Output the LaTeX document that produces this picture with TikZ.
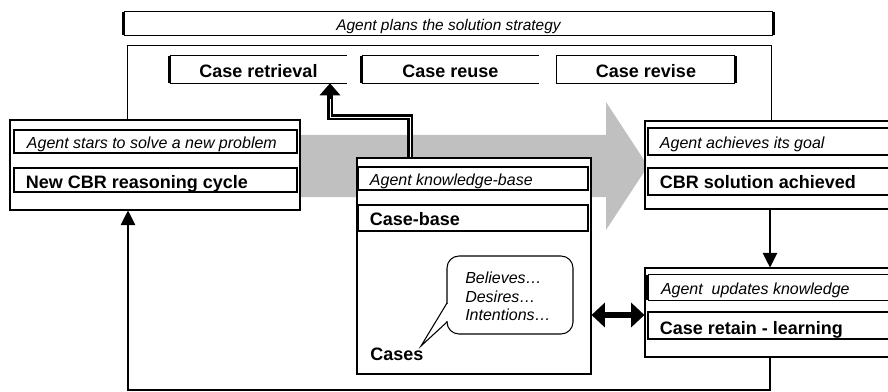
\documentclass[tikz,border=0pt]{standalone}
\usepackage{fontspec}
\setmainfont{Liberation Sans}
\usetikzlibrary{fit,arrows.meta}
\definecolor{flowgray}{RGB}{192,192,192}
\begin{document}
\begin{tikzpicture}[x=0.75pt,y=-0.75pt,
  box/.style={draw, line width=0.8pt, fill=white, inner sep=0pt},
  sub/.style={draw, line width=2pt, fill=white, inner sep=0pt},
  plain/.style={inner sep=0pt},
  itl/.style={font=\fontsize{12}{14}\selectfont\itshape, inner sep=0pt},
  bld/.style={font=\fontsize{13.5}{16}\selectfont\bfseries, inner sep=0pt},
  thinln/.style={line width=0.8pt},
  heavy/.style={line width=2.2pt},
  conn/.style={line width=0.8pt, -{Triangle[length=11pt,width=11pt]}},
]
\useasboundingbox (0,0) rectangle (888,392);
\clip (0,0) rectangle (888,392);

% planning banner
\node[plain, fit={(124,12)(773,35)}] (plan) {};
\draw[thinln] (plan.north west) -- (plan.north east) (plan.south west) -- (plan.south east);
\draw[heavy] (plan.north west) -- (plan.south west) (plan.north east) -- (plan.south east);
\node[itl, font=\fontsize{11.6}{14}\selectfont\itshape, anchor=base] (planT) at ([yshift=-5.2pt]plan.center) {Agent plans the solution strategy};

% planning frame
\node[plain, fit={(128,46)(771,120)}] (frame) {};
\draw[thinln] (frame.south west) -- (frame.north west) -- (frame.north east) -- (frame.south east);

% phases
\node[plain, fit={(170,56)(347,83)}] (retr) {};
\draw[thinln] (retr.north west) -- (retr.north east) (retr.south west) -- (retr.south east);
\draw[heavy] (retr.north west) -- (retr.south west);
\node[bld, anchor=base] (retrT) at ([yshift=-6pt]retr.center) {Case retrieval};

\node[plain, fit={(362,56)(539,83)}] (reuse) {};
\draw[thinln] (reuse.north west) -- (reuse.north east) (reuse.south west) -- (reuse.south east);
\draw[heavy] (reuse.north west) -- (reuse.south west);
\node[bld, anchor=base] (reuseT) at ([yshift=-6pt]reuse.center) {Case reuse};

\node[plain, fit={(557,56)(735,83)}] (revise) {};
\draw[thinln] (revise.north east) -- (revise.north west) -- (revise.south west) -- (revise.south east);
\draw[heavy] (revise.north east) -- (revise.south east);
\node[bld, anchor=base] (reviseT) at ([yshift=-6pt]revise.center) {Case revise};

% big gray flow arrow
\fill[flowgray] (290,135) -- (606,135) -- (606,102) -- (648,166) -- (606,230) -- (606,197) -- (290,197) -- cycle;

% start box
\node[box, fit={(10,120)(300,210)}] (start) {};
\node[sub, fit={(14,130)(297,153)}] (startA) {};
\node[sub, fit={(14,168)(297,192)}] (startB) {};
\node[itl, anchor=base west] (startAT) at ([xshift=10.5pt,yshift=-5pt]startA.west) {Agent stars to solve a new problem};
\node[bld, anchor=base west] (startBT) at ([xshift=9.75pt,yshift=-6pt]startB.west) {New CBR reasoning cycle};

% knowledge box
\node[box, fit={(357,158)(591,374)}] (kb) {};
\node[sub, fit={(358,167)(588,190)}] (kbA) {};
\node[sub, fit={(358,205)(588,231)}] (kbB) {};
\node[itl, anchor=base west] (kbAT) at ([xshift=9.75pt,yshift=-4.9pt]kbA.west) {Agent knowledge-base};
\node[bld, anchor=base west] (kbBT) at ([xshift=9.75pt,yshift=-5.25pt]kbB.west) {Case-base};
\node[bld, anchor=base west] (cases) at (370,360) {Cases};

% speech bubble
\draw[thinln, fill=white, rounded corners=9pt] (447,256) rectangle (573,334);
\fill[white] (445,304) rectangle (449,321);
\draw[thinln, line join=miter] (447,303) -- (421,346) -- (447,322);
\node[itl, anchor=base west] (bel) at (465,283) {Believes…};
\node[itl, anchor=base west] (des) at (465,302) {Desires…};
\node[itl, anchor=base west] (inte) at (465,320) {Intentions…};

% right boxes
\node[box, fit={(645,121)(900,209)}] (goal) {};
\node[sub, fit={(648,128)(900,155)}] (goalA) {};
\node[sub, fit={(648,168)(900,195)}] (goalB) {};
\node[itl, anchor=base west] (goalAT) at ([xshift=9.75pt,yshift=-5.1pt]goalA.west) {Agent achieves its goal};
\node[bld, anchor=base west] (goalBT) at ([xshift=9.75pt,yshift=-5.6pt]goalB.west) {CBR solution achieved};

\node[box, fit={(645,268)(900,357)}] (upd) {};
\node[plain, fit={(648,275)(900,300)}] (updA) {};
\draw[thinln] (updA.north east) -- (updA.north west) (updA.south west) -- (updA.south east);
\draw[heavy] (updA.north west) -- (updA.south west);
\node[sub, fit={(648,312)(900,339)}] (updB) {};
\node[itl, anchor=base west] (updAT) at ([xshift=9.75pt,yshift=-5.6pt]updA.west) {Agent~ updates knowledge};
\node[bld, anchor=base west] (updBT) at ([xshift=9.75pt,yshift=-7pt]updB.west) {Case retain - learning};

% connectors
\coordinate (axis) at (770,0);
\coordinate (loop) at (128,390);
\draw[conn] (goal.south -| axis) -- (upd.north -| axis);
\draw[conn] (upd.south -| axis) -- (axis |- loop) -- (loop) -- (start.south -| loop);

\coordinate (tap) at (410,117);
\coordinate (turn) at (330,117);
\draw[line width=4pt, line join=miter, -{Triangle[length=9pt,width=15pt]}] (kb.north -| tap) -- (tap) -- (turn) -- (retr.south -| turn);
\draw[white, line width=0.35pt, line join=miter, shorten >=12pt] (kb.north -| tap) -- (tap) -- (turn) -- (retr.south -| turn);

\coordinate (link) at (0,315);
\draw[line width=5pt, {Triangle[length=10pt,width=18pt]}-{Triangle[length=10pt,width=18pt]}] (kb.east |- link) -- (upd.west |- link);
\end{tikzpicture}
\end{document}
